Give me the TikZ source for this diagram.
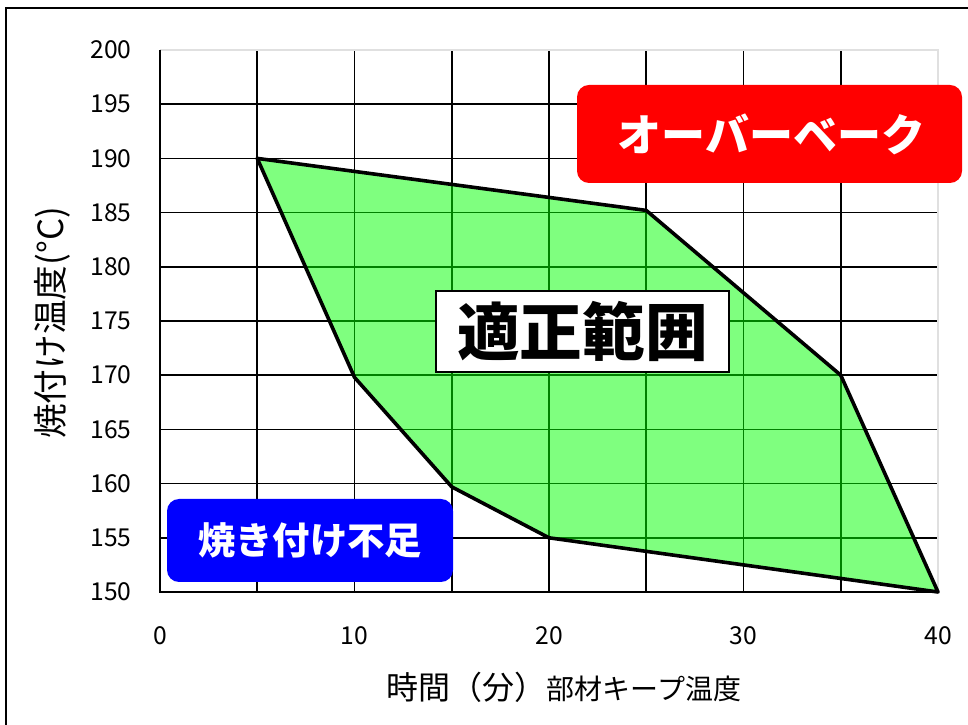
\documentclass[tikz,border=0pt]{standalone}
\usepackage{fontspec}
\setmainfont{Noto Sans CJK JP}
\usetikzlibrary{positioning}

\begin{document}
\begin{tikzpicture}[x=0.75pt,y=0.75pt,
  gridline/.style={line width=1.2pt},
  axisline/.style={line width=1.5pt},
  ticklabel/.style={font=\fontsize{18.5}{20}\selectfont,inner sep=0pt},
  tagbox/.style={rounded corners=9pt,text=white,inner sep=0pt}]
\useasboundingbox (0,0) rectangle (968,725);
\clip (0,0) rectangle (968,725);
\draw[line width=1.5pt] (6,717) rectangle (1000,-30);

% plot area, data coordinates
\begin{scope}[shift={(160,133)},x=14.5875pt,y=8.13pt,shift={(0,-150)}]
\foreach \t in {5,10,...,35}
  \draw[gridline] (\t,150) -- (\t,200);
\foreach \T in {155,160,...,195}
  \draw[gridline] (0,\T) -- (40,\T);
\draw[line width=1.5pt,black!12] (0,200) -- (40,200) -- (40,150);
\draw[axisline] (0,200) -- (0,150) -- (40,150);
\foreach \T in {150,155,...,200}
  \node[ticklabel,anchor=east] (y\T) at (-1.45,\T) {\T};
\foreach \t in {0,10,...,40}
  \node[ticklabel] (x\t) at (\t,146) {\t};
% range
\fill[green,opacity=0.5] (5,190) -- (25,185.2) -- (35,170) -- (40,150)
  -- (20,155) -- (15,159.7) -- (10,169.8) -- cycle;
\draw[line width=2.7pt,line join=round] (5,190) -- (25,185.2) -- (35,170)
  -- (40,150) -- (20,155) -- (15,159.7) -- (10,169.8) -- cycle;
\end{scope}

\node[draw,fill=white,line width=1.5pt,minimum width=219.75pt,minimum height=60.75pt,
  font=\fontsize{47}{50}\selectfont\bfseries] (range) at (582.5,393.5) {適正範囲\hspace{5pt}};
\node[tagbox,fill=red,minimum width=288.75pt,minimum height=73.5pt,
  font=\fontsize{33}{36}\selectfont\bfseries] (over) at (769.5,591) {\hspace{3pt}オーバーベーク};
\node[tagbox,fill=blue,minimum width=214.5pt,minimum height=62.25pt,
  font=\fontsize{28}{30}\selectfont\bfseries] (under) at (310,184.5) {焼き付け不足};

\node[rotate=90,font=\fontsize{26}{28}\selectfont] (ylabel) at (52,402) {焼付け温度(°C)};
\node (xlabel) at (564,38) {\fontsize{24}{26}\selectfont 時間（分）\fontsize{21}{24}\selectfont 部材キープ温度};
\end{tikzpicture}
\end{document}
